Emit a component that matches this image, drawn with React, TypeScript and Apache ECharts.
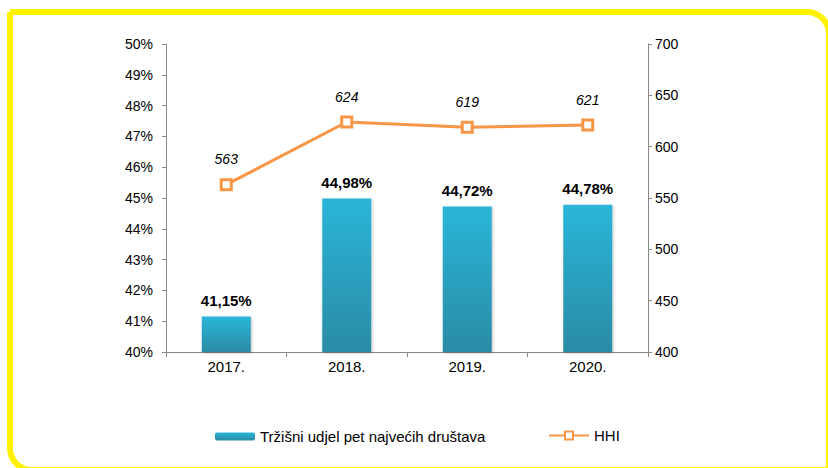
import React, { useEffect, useRef } from "react";
import * as echarts from "echarts";

const categories = ["2017.", "2018.", "2019.", "2020."];
const shareValues = [41.15, 44.98, 44.72, 44.78];
const hhiValues = [563, 624, 619, 621];
const shareName = "Tržišni udjel pet najvećih društava";
const hhiName = "HHI";

const FONT = "Liberation Sans, Arial, sans-serif";

export default function App() {
  const ref = useRef<HTMLDivElement>(null);
  useEffect(() => {
    document.body.style.margin = "0";
    if (!ref.current) return;
    const chart = echarts.init(ref.current, undefined, { renderer: "svg" });
    const barGrad = new echarts.graphic.LinearGradient(0, 0, 0, 1, [
      { offset: 0, color: "#2BB5D9" },
      { offset: 1, color: "#2A8BA5" },
    ]);
    chart.setOption({
      animation: false,
      textStyle: { fontFamily: FONT },
      grid: { left: 166, right: 180, top: 44, bottom: 116 },
      graphic: [
        {
          type: "rect",
          shape: { x: 10, y: 12, width: 819, height: 458, r: [0, 22, 0, 22] },
          style: { fill: "none", stroke: "#FFF200", lineWidth: 6 },
          silent: true,
        },
      ],
      legend: [
        {
          data: [shareName],
          left: 210,
          top: 424,
          itemWidth: 40,
          itemHeight: 8,
          itemGap: 6,
          textStyle: { fontFamily: FONT, fontSize: 15, color: "#000" },
        },
        {
          data: [hhiName],
          left: 543,
          top: 423,
          itemWidth: 40,
          itemHeight: 10,
          textStyle: { fontFamily: FONT, fontSize: 15, color: "#000" },
        },
      ],
      xAxis: {
        type: "category",
        data: categories,
        boundaryGap: true,
        axisLine: { lineStyle: { color: "#888", width: 1 } },
        axisTick: { show: true, alignWithLabel: false, length: 5, lineStyle: { color: "#888" } },
        axisLabel: { color: "#000", fontSize: 15, fontFamily: FONT, margin: 7 },
      },
      yAxis: [
        {
          type: "value",
          min: 40,
          max: 50,
          interval: 1,
          position: "left",
          splitLine: { show: false },
          axisLine: { show: true, lineStyle: { color: "#888" } },
          axisTick: { show: true, length: 4, lineStyle: { color: "#888" } },
          axisLabel: {
            formatter: (v: number) => `${v}%`,
            color: "#000",
            fontSize: 14,
            fontFamily: FONT,
            margin: 13,
          },
        },
        {
          type: "value",
          min: 400,
          max: 700,
          interval: 50,
          position: "right",
          splitLine: { show: false },
          axisLine: { show: true, lineStyle: { color: "#888" } },
          axisTick: { show: true, length: 4, lineStyle: { color: "#888" } },
          axisLabel: { color: "#000", fontSize: 14, fontFamily: FONT, margin: 7 },
        },
      ],
      series: [
        {
          name: shareName,
          type: "bar",
          yAxisIndex: 0,
          data: shareValues,
          barWidth: 49,
          itemStyle: {
            color: barGrad,
            shadowColor: "rgba(0,0,0,0.25)",
            shadowBlur: 3,
            shadowOffsetX: 1,
            shadowOffsetY: 1,
          },
          label: {
            show: true,
            position: "top",
            distance: 9,
            formatter: (p: any) => p.value.toFixed(2).replace(".", ",") + "%",
            fontWeight: "bold",
            fontSize: 15,
            fontFamily: FONT,
            color: "#000",
          },
        },
        {
          name: hhiName,
          type: "line",
          yAxisIndex: 1,
          data: hhiValues,
          symbol: "rect",
          symbolSize: 10,
          lineStyle: { color: "#F79646", width: 3 },
          itemStyle: { color: "#fff", borderColor: "#F79646", borderWidth: 3 },
          label: {
            show: true,
            position: "top",
            distance: 12,
            fontStyle: "italic",
            fontSize: 14,
            fontFamily: FONT,
            color: "#000",
          },
        },
      ],
    });
    return () => chart.dispose();
  }, []);
  return <div ref={ref} style={{ width: 828, height: 468 }} />;
}
